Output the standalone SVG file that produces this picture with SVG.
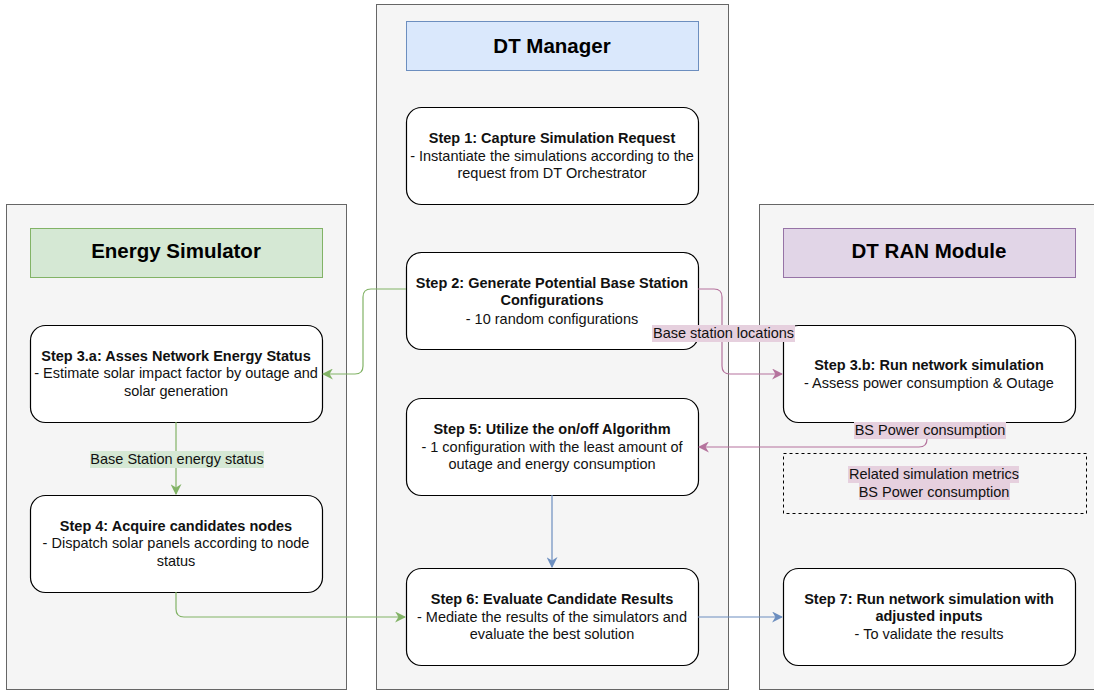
<svg xmlns="http://www.w3.org/2000/svg" width="1094" height="691" viewBox="0 0 1094 691">
<defs>
<style>
.cont{fill:#f5f5f5;stroke:#666666;stroke-width:1}
.node{fill:#ffffff;stroke:#000000;stroke-width:1.2}
.t{font-family:"Liberation Sans",Arial,sans-serif;font-size:14.5px;fill:#111;text-anchor:middle}
.b{font-weight:bold}
.h{font-family:"Liberation Sans",Arial,sans-serif;font-size:20.5px;font-weight:bold;fill:#000;text-anchor:middle}
.g{fill:none;stroke:#82b366;stroke-width:1.2}
.p{fill:none;stroke:#B5739D;stroke-width:1.2}
.bl{fill:none;stroke:#6c8ebf;stroke-width:1.2}
</style>
<marker id="ag" viewBox="0 0 10 10" refX="9" refY="5" markerWidth="11" markerHeight="11" markerUnits="userSpaceOnUse" orient="auto"><path d="M0,0 L10,5 L0,10 L3,5 Z" fill="#82b366"/></marker>
<marker id="ap" viewBox="0 0 10 10" refX="9" refY="5" markerWidth="11" markerHeight="11" markerUnits="userSpaceOnUse" orient="auto"><path d="M0,0 L10,5 L0,10 L3,5 Z" fill="#B5739D"/></marker>
<marker id="ab" viewBox="0 0 10 10" refX="9" refY="5" markerWidth="11" markerHeight="11" markerUnits="userSpaceOnUse" orient="auto"><path d="M0,0 L10,5 L0,10 L3,5 Z" fill="#6c8ebf"/></marker>
</defs>
<rect width="1094" height="691" fill="#ffffff"/>
<g id="containers">
<rect class="cont" x="6.5" y="204.5" width="340" height="485"/>
<rect class="cont" x="376.5" y="4.5" width="352" height="685"/>
<rect class="cont" x="759.5" y="204.5" width="340" height="485"/>
</g>
<g id="hdr-manager"><rect x="406.5" y="21.5" width="292" height="49" fill="#dae8fc" stroke="#6c8ebf"/><text class="h" x="552" y="53">DT Manager</text></g>
<g id="hdr-energy"><rect x="30.5" y="228.5" width="292" height="49" fill="#d5e8d4" stroke="#82b366"/><text class="h" x="176" y="258">Energy Simulator</text></g>
<g id="hdr-ran"><rect x="783.5" y="228.5" width="292" height="49" fill="#e1d5e7" stroke="#9673a6"/><text class="h" x="929" y="258">DT RAN Module</text></g>

<g id="step1"><rect class="node" x="406.5" y="107.5" width="292" height="97" rx="15"/>
<text class="t b" x="552" y="143">Step 1: Capture Simulation Request</text>
<text class="t" x="552" y="161">- Instantiate the simulations according to the</text>
<text class="t" x="552" y="178">request from DT Orchestrator</text></g>

<g id="step2"><rect class="node" x="406.5" y="252.5" width="292" height="97" rx="15"/>
<text class="t b" x="552" y="288">Step 2: Generate Potential Base Station</text>
<text class="t b" x="552" y="305">Configurations</text>
<text class="t" x="552" y="324">- 10 random configurations</text></g>

<g id="step3a"><rect class="node" x="30.5" y="325.5" width="292" height="97" rx="15"/>
<text class="t b" x="176" y="361">Step 3.a: Asses Network Energy Status</text>
<text class="t" x="176" y="378">- Estimate solar impact factor by outage and</text>
<text class="t" x="176" y="396">solar generation</text></g>

<g id="step3b"><rect class="node" x="783.5" y="325.5" width="292" height="97" rx="15"/>
<text class="t b" x="929" y="370">Step 3.b: Run network simulation</text>
<text class="t" x="929" y="388">- Assess power consumption &amp; Outage</text></g>

<g id="step5"><rect class="node" x="406.5" y="398.5" width="292" height="97" rx="15"/>
<text class="t b" x="552" y="434">Step 5: Utilize the on/off Algorithm</text>
<text class="t" x="552" y="452">- 1 configuration with the least amount of</text>
<text class="t" x="552" y="469">outage and energy consumption</text></g>

<g id="metrics"><rect x="783.5" y="453.5" width="303" height="60" fill="none" stroke="#000" stroke-dasharray="3,3"/>
<rect x="848" y="466" width="171" height="17" fill="#E6D0DE"/>
<text class="t" x="934" y="479">Related simulation metrics</text>
<rect x="859" y="483" width="151" height="17" fill="#E6D0DE"/>
<text class="t" x="934" y="497">BS Power consumption</text></g>

<g id="step4"><rect class="node" x="30.5" y="495.5" width="292" height="97" rx="15"/>
<text class="t b" x="176" y="531">Step 4: Acquire candidates nodes</text>
<text class="t" x="176" y="548">- Dispatch solar panels according to node</text>
<text class="t" x="176" y="566">status</text></g>

<g id="step6"><rect class="node" x="406.5" y="568.5" width="292" height="97" rx="15"/>
<text class="t b" x="552" y="604">Step 6: Evaluate Candidate Results</text>
<text class="t" x="552" y="622">- Mediate the results of the simulators and</text>
<text class="t" x="552" y="639">evaluate the best solution</text></g>

<g id="step7"><rect class="node" x="783.5" y="568.5" width="292" height="97" rx="15"/>
<text class="t b" x="929" y="604">Step 7: Run network simulation with</text>
<text class="t b" x="929" y="621">adjusted inputs</text>
<text class="t" x="929" y="639">- To validate the results</text></g>

<g id="connectors">
<path class="g" d="M406,289 H371 Q363,289 363,297 V366 Q363,374 355,374 H323" marker-end="url(#ag)"/>
<path class="p" d="M698,289 H714 Q722,289 722,297 V366 Q722,374 730,374 H782" marker-end="url(#ap)"/>
<path class="p" d="M927,422 V439 Q927,447 919,447 H699" marker-end="url(#ap)"/>
<path class="g" d="M176,422 V494" marker-end="url(#ag)"/>
<path class="g" d="M176,592 V609 Q176,617 184,617 H405" marker-end="url(#ag)"/>
<path class="bl" d="M552,495 V567" marker-end="url(#ab)"/>
<path class="bl" d="M698,617 H782" marker-end="url(#ab)"/>
<rect x="652" y="325" width="143" height="17" fill="#E6D0DE"/>
<text class="t" x="723.5" y="338">Base station locations</text>
<rect x="854" y="422" width="152" height="17" fill="#E6D0DE"/>
<text class="t" x="930" y="435">BS Power consumption</text>
<rect x="90" y="451" width="174" height="17" fill="#d5e8d4"/>
<text class="t" x="177" y="464">Base Station energy status</text>
</g>
</svg>
